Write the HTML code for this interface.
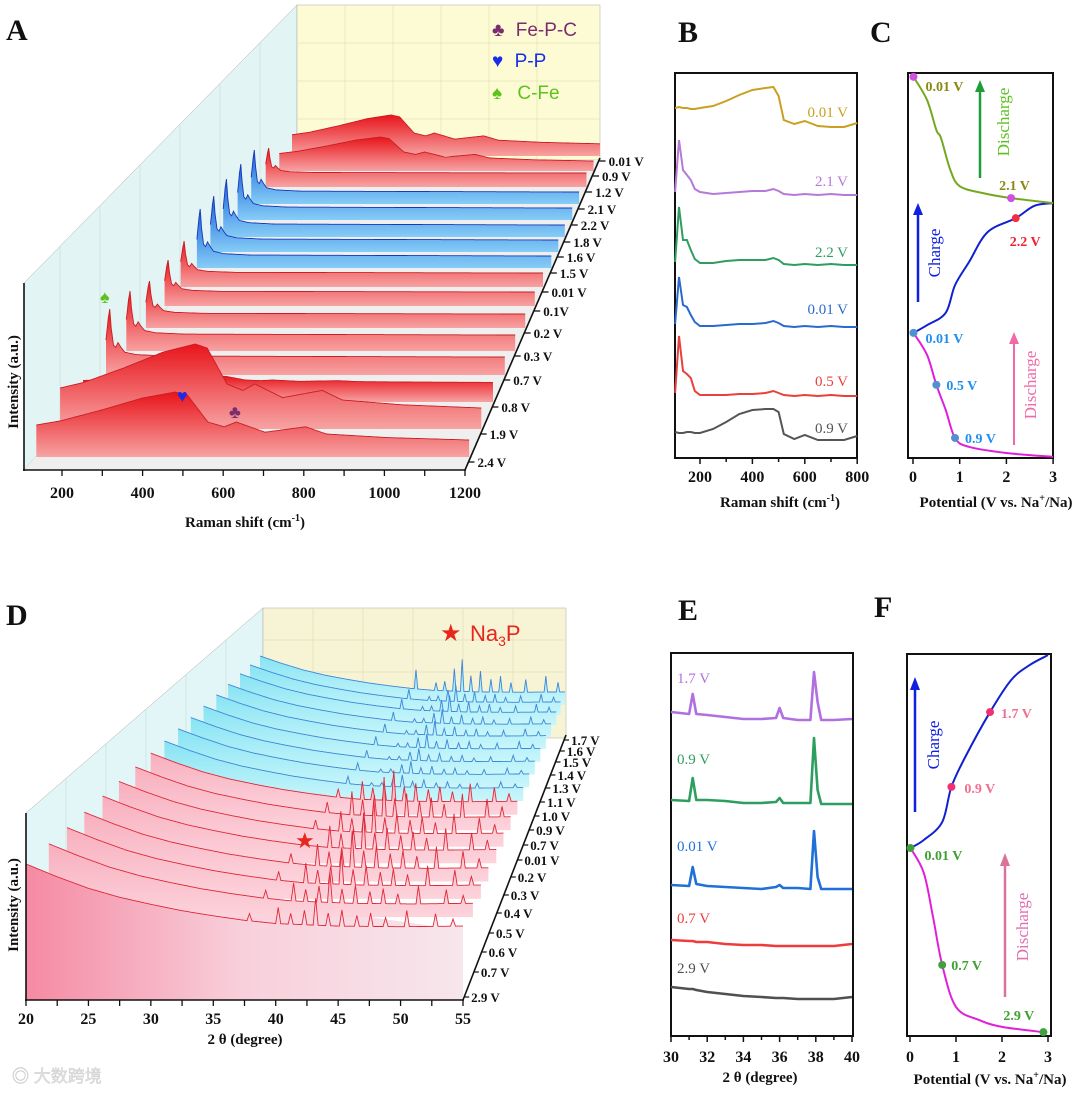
<!DOCTYPE html>
<html><head><meta charset="utf-8">
<style>
html,body{margin:0;padding:0;background:#fff;}
svg{display:block;font-family:"Liberation Serif",serif;}
.tk{font-size:16px;font-weight:bold;fill:#111;}
.dl{font-size:13px;font-weight:bold;fill:#111;}
.tt{font-size:15px;font-weight:bold;fill:#111;}
.let{font-size:30px;font-weight:bold;fill:#111;}
</style></head>
<body>
<svg id="fig" width="1080" height="1093" viewBox="0 0 1080 1093">
<defs>
<linearGradient id="gRed" x1="0" y1="0" x2="0" y2="1"><stop offset="0" stop-color="#e8141a"/><stop offset="1" stop-color="#f7a3a3"/></linearGradient>
<linearGradient id="gBlue" x1="0" y1="0" x2="0" y2="1"><stop offset="0" stop-color="#1560d8"/><stop offset="1" stop-color="#86cdf7"/></linearGradient>
<linearGradient id="gPink" x1="0" y1="0" x2="0" y2="1"><stop offset="0" stop-color="#f8aebd"/><stop offset="1" stop-color="#fcd3dc"/></linearGradient>
<linearGradient id="gCyan" x1="0" y1="0" x2="0" y2="1"><stop offset="0" stop-color="#86e3f3"/><stop offset="1" stop-color="#c9f6fb"/></linearGradient>
<linearGradient id="gFloorD" x1="0" y1="0" x2="1" y2="0"><stop offset="0" stop-color="#f58aa3"/><stop offset="0.5" stop-color="#f8d0dc"/><stop offset="1" stop-color="#f7e6ec"/></linearGradient>
</defs>

<!-- Panel A static -->
<g>
<text class="let" x="6" y="40">A</text>
<polygon points="24,283 297,5 297,160 24,470" fill="#e3f4f4" stroke="#aaa" stroke-width="0.5"/>
<rect x="297" y="5" width="303" height="155" fill="#fdfbd4" stroke="#aaa" stroke-width="0.5"/>
<g stroke="#e5e2b8" stroke-width="0.7">
<line x1="345" y1="5" x2="345" y2="160"/><line x1="393" y1="5" x2="393" y2="160"/><line x1="441" y1="5" x2="441" y2="160"/><line x1="489" y1="5" x2="489" y2="160"/><line x1="537" y1="5" x2="537" y2="160"/>
<line x1="297" y1="43" x2="600" y2="43"/><line x1="297" y1="81" x2="600" y2="81"/><line x1="297" y1="119" x2="600" y2="119"/>
</g>
<g stroke="#c9dede" stroke-width="0.7">
<line x1="60" y1="246" x2="60" y2="430"/><line x1="100" y1="205" x2="100" y2="390"/><line x1="140" y1="164" x2="140" y2="345"/><line x1="180" y1="124" x2="180" y2="300"/><line x1="220" y1="83" x2="220" y2="255"/><line x1="260" y1="43" x2="260" y2="210"/>
</g>
<polygon points="24,470 465,470 600,160 297,160" fill="#efefef"/>
</g>
<g id="gA"></g>
<g>
<line x1="24" y1="283" x2="24" y2="471" stroke="#111" stroke-width="1.6"/>
<line x1="23" y1="470" x2="466" y2="470" stroke="#111" stroke-width="1.6"/>
<line x1="465" y1="470" x2="600" y2="158" stroke="#111" stroke-width="1.6"/>
<text class="tt" transform="translate(18,382) rotate(-90)" text-anchor="middle">Intensity (a.u.)</text>
<text class="tt" x="245" y="527" text-anchor="middle">Raman shift (cm<tspan dy="-6" font-size="10">-1</tspan><tspan dy="6">)</tspan></text>
</g>
<g id="gAx"></g>
<g font-family="Liberation Sans, DejaVu Sans, sans-serif" font-size="19">
<text x="492" y="36" fill="#7b2d6e">♣ <tspan dx="6">Fe-P-C</tspan></text>
<text x="492" y="67" fill="#1a2ce8">♥ <tspan dx="6">P-P</tspan></text>
<text x="492" y="99" fill="#5ec21e">♠ <tspan dx="10">C-Fe</tspan></text>
<text x="100" y="303" fill="#5ec21e" font-size="18">♠</text>
<text x="177" y="402" fill="#1a2ce8" font-size="18">♥</text>
<text x="229" y="418" fill="#7b2d6e" font-size="18">♣</text>
</g>

<!-- Panel B -->
<g>
<text class="let" x="678" y="42">B</text>
<rect x="675" y="73" width="182" height="385" fill="none" stroke="#111" stroke-width="2"/>
<text class="tt" x="780" y="507" text-anchor="middle">Raman shift (cm<tspan dy="-6" font-size="10">-1</tspan><tspan dy="6">)</tspan></text>
</g>
<g id="gB"></g>

<!-- Panel C -->
<g>
<text class="let" x="870" y="42">C</text>
<rect x="908" y="73" width="145" height="385" fill="none" stroke="#111" stroke-width="2"/>
<text class="tt" x="996" y="507" text-anchor="middle">Potential (V vs. Na<tspan dy="-6" font-size="10">+</tspan><tspan dy="6">/Na)</tspan></text>
<line x1="980" y1="178" x2="980" y2="90" stroke="#1e9e3a" stroke-width="2.5"/>
<polygon points="980,80 975,92 985,92" fill="#1e9e3a"/>
<text transform="translate(1009,122) rotate(-90)" text-anchor="middle" font-size="17" fill="#5ec21e">Discharge</text>
<line x1="918" y1="302" x2="918" y2="213" stroke="#1020e0" stroke-width="2.5"/>
<polygon points="918,203 913,215 923,215" fill="#1020e0"/>
<text transform="translate(940,253) rotate(-90)" text-anchor="middle" font-size="17" fill="#1020e0">Charge</text>
<line x1="1014" y1="445" x2="1014" y2="342" stroke="#f06aa8" stroke-width="2"/>
<polygon points="1014,332 1009,344 1019,344" fill="#f06aa8"/>
<text transform="translate(1036,385) rotate(-90)" text-anchor="middle" font-size="17" fill="#f06aa8">Discharge</text>
</g>
<g id="gC"></g>

<!-- Panel D -->
<g>
<text class="let" x="6" y="625">D</text>
<polygon points="26,813 263,608 263,760 26,1000" fill="#e3f6f7" stroke="#aaa" stroke-width="0.5"/>
<g stroke="#c9dede" stroke-width="0.7">
<line x1="66" y1="778" x2="66" y2="960"/><line x1="106" y1="744" x2="106" y2="920"/><line x1="146" y1="709" x2="146" y2="880"/><line x1="186" y1="675" x2="186" y2="840"/><line x1="226" y1="640" x2="226" y2="800"/>
</g>
<rect x="263" y="608" width="303" height="130" fill="#f7f4d6" stroke="#aaa" stroke-width="0.5"/>
<g stroke="#e2dfb6" stroke-width="0.7">
<line x1="313" y1="608" x2="313" y2="738"/><line x1="363" y1="608" x2="363" y2="738"/><line x1="413" y1="608" x2="413" y2="738"/><line x1="463" y1="608" x2="463" y2="738"/><line x1="513" y1="608" x2="513" y2="738"/>
<line x1="263" y1="640" x2="566" y2="640"/><line x1="263" y1="672" x2="566" y2="672"/>
</g>
<text x="440" y="641" font-size="24" fill="#e8261c">★</text>
<text x="470" y="641" font-size="22" fill="#e8261c" font-family="Liberation Sans, sans-serif">Na<tspan dy="5" font-size="14">3</tspan><tspan dy="-5">P</tspan></text>
</g>
<g id="gD"></g>
<g>
<text x="295" y="848" font-size="22" fill="#e8261c">★</text>
<line x1="26" y1="813" x2="26" y2="1001" stroke="#111" stroke-width="1.6"/>
<line x1="25" y1="1000" x2="464" y2="1000" stroke="#111" stroke-width="1.6"/>
<line x1="463" y1="1000" x2="566" y2="735" stroke="#111" stroke-width="1.6"/>
<text class="tt" transform="translate(18,905) rotate(-90)" text-anchor="middle">Intensity (a.u.)</text>
<text class="tt" x="245" y="1044" text-anchor="middle">2 θ (degree)</text>
</g>
<g id="gDx"></g>

<!-- Panel E -->
<g>
<text class="let" x="678" y="620">E</text>
<rect x="671" y="653" width="182" height="383" fill="none" stroke="#111" stroke-width="2"/>
<text class="tt" x="760" y="1082" text-anchor="middle">2 θ (degree)</text>
</g>
<g id="gE"></g>

<!-- Panel F -->
<g>
<text class="let" x="874" y="617">F</text>
<rect x="907" y="654" width="144" height="382" fill="none" stroke="#111" stroke-width="2"/>
<text class="tt" x="990" y="1084" text-anchor="middle">Potential (V vs. Na<tspan dy="-6" font-size="10">+</tspan><tspan dy="6">/Na)</tspan></text>
<line x1="915" y1="812" x2="915" y2="688" stroke="#1020e0" stroke-width="2.5"/>
<polygon points="915,677 910,690 920,690" fill="#1020e0"/>
<text transform="translate(939,745) rotate(-90)" text-anchor="middle" font-size="17" fill="#1020e0">Charge</text>
<line x1="1005" y1="997" x2="1005" y2="864" stroke="#d9739a" stroke-width="2.5"/>
<polygon points="1005,853 1000,866 1010,866" fill="#d9739a"/>
<text transform="translate(1028,927) rotate(-90)" text-anchor="middle" font-size="17" fill="#e070b0">Discharge</text>
</g>
<g id="gF"></g>

<text x="12" y="1082" font-size="17" fill="#e4e4e4" stroke="#c8c8c8" stroke-width="0.4" font-family="Liberation Sans, Noto Sans CJK SC, sans-serif">◎ 大数跨境</text>
</svg>

<script>
// ---------- Panel A data ----------
const labelsA = ['2.4 V','1.9 V','0.8 V','0.7 V','0.3 V','0.2 V','0.1V','0.01 V','1.5 V','1.6 V','1.8 V','2.2 V','2.1 V','1.2 V','0.9 V','0.01 V'];
const colorGroupA = ['r','r','r','r','r','r','r','r','b','b','b','b','b','r','r','r'];
const levelA = [5,5,18,18,16,14,14,14,12,12,12,12,12,14,4,5];
const humpA  = [60,80,8,0,0,0,0,0,0,0,0,0,0,0,30,36];
const peakA  = [0,0,0,48,44,33,32,32,47,44,46,44,42,25,0,0];
const humpShift = [140,200,300,400,480,510,560,600,630,700,800,850,1000,1200];
const humpProf  = [0.45,0.52,0.7,0.9,1.0,0.95,0.5,0.42,0.5,0.33,0.42,0.3,0.24,0.2];
const peakShift = [140,146,150,154,160,166,172,180,190,220,300,1200];
const peakProf  = [0.35,0.8,1,0.6,0.25,0.2,0.3,0.2,0.1,0.05,0.02,0];
const ticksA = [200,400,600,800,1000,1200];
// ---------- Panel B data ----------
const shiftB = [105,120,135,150,165,180,200,250,300,350,400,450,480,500,520,560,600,650,700,750,800];
const labelsB = ['0.01 V','2.1 V','2.2 V','0.01 V','0.5 V','0.9 V'];
const seriesB0 = [20,21,20,20,19,19,20,22,27,33,38,40,41,32,8,4,7,2,1,1,5];
const seriesB1 = [3,55,25,20,15,6,3,1,2,3,4,4,6,4,1,0,1,0,1,0,0];
const seriesB2 = [3,58,25,25,15,6,2,2,4,5,5,5,7,5,1,0,1,0,1,0,0];
const seriesB3 = [3,50,22,20,12,5,1,1,2,3,3,4,6,4,1,0,1,0,1,0,0];
const seriesB4 = [3,60,25,22,18,5,1,1,1,2,2,3,5,3,1,0,1,0,1,0,0];
const seriesB5 = [10,9,9,10,10,9,9,13,20,28,32,33,33,30,8,3,7,2,2,2,6];
const ticksB = [200,400,600,800];
// ---------- Panel C data (potential V, state-of-progress %) ----------
const cPinkV = [0.01,0.3,0.5,0.7,0.9,1.2,2.0,3.0];
const cPinkP = [32.5,26.8,19,12.5,5.2,2.9,1.3,0.3];
const cBlueV = [0.01,0.3,0.7,0.9,1.2,1.6,2.2,2.6,3.0];
const cBlueP = [32.5,34.5,37.7,44.9,50.9,58.7,62.3,65.5,66.2];
const cGreenV = [3.0,2.1,1.5,1.0,0.8,0.6,0.5,0.3,0.01];
const cGreenP = [66.2,67.5,68.8,70.6,74.8,83.1,85.2,93,99];
const ticksC = [0,1,2,3];
// ---------- Panel D data ----------
const labelsD = ['2.9 V','0.7 V','0.6 V','0.5 V','0.4 V','0.3 V','0.2 V','0.01 V','0.7 V','0.9 V','1.0 V','1.1 V','1.3 V','1.4 V','1.5 V','1.6 V','1.7 V'];
const colorGroupD = ['r','r','r','r','r','r','r','r','b','b','b','b','b','b','b','b','b'];
const bgThetaD = [20,22.5,25,27.5,30,32.5,35,37.5,40,45,50,55];
const bgProfD  = [1,0.8,0.62,0.48,0.37,0.27,0.19,0.12,0.07,0.03,0.02,0.03];
const peakPosD = [37.9,40.2,41.2,42.3,43.2,44.2,45.3,46.5,47.6,48.8,50.5,52.8,54.2];
const peakHRed = [8,18,12,16,30,14,18,12,15,10,18,14,8];
const peakHBlue= [12,5,6,14,20,10,13,8,10,6,8,10,6];
const peakScaleD = [0.9,1.0,1.1,1.2,1.2,1.1,1.3,1.0,0.6,0.6,0.6,0.7,0.7,0.7,0.8,0.8,1.6];
const ticksD = [20,25,30,35,40,45,50,55];
// ---------- Panel E data ----------
const thetaE = [30,31,31.2,31.4,32,33,34,35,35.8,36,36.2,37,37.7,37.9,38.1,38.3,39,40];
const labelsE = ['1.7 V','0.9 V','0.01 V','0.7 V','2.9 V'];
const seriesE0 = [12,10,30,10,9,7,5,5,6,16,6,4,4,52,22,4,4,5];
const seriesE1 = [8,7,30,8,8,7,5,5,6,10,5,5,5,70,18,4,4,4];
const seriesE2 = [8,7,26,9,7,6,5,4,6,8,5,5,4,62,16,4,4,4];
const seriesE3 = [10,9,9,8,8,6,5,5,4,4,4,4,4,4,4,4,4,6];
const seriesE4 = [17,15,15,14,12,10,8,7,6,6,6,5,5,5,5,5,5,7];
const ticksE = [30,32,34,36,38,40];
// ---------- Panel F data ----------
const fPinkV = [0.01,0.3,0.5,0.7,1.0,1.5,2.0,2.9];
const fPinkP = [49.2,42.7,31.2,18.6,7.6,4.2,2.4,1.0];
const fBlueV = [0.01,0.3,0.7,0.9,1.2,1.74,2.2,2.6,3.0];
const fBlueP = [49.2,51.3,56,65.2,73,84.8,93.2,97.1,99.7];
const ticksF = [0,1,2,3];

const NS='http://www.w3.org/2000/svg';
function mk(tag,parent){const e=document.createElementNS(NS,tag);parent.appendChild(e);return e;}
function interp(xs,ys,x){if(x<=xs[0])return ys[0];for(let k=1;k<xs.length;k++){if(x<=xs[k]){const f=(x-xs[k-1])/(xs[k]-xs[k-1]);return ys[k-1]+f*(ys[k]-ys[k-1]);}}return ys[ys.length-1];}
function pathOf(pts){return pts.map((p,k)=>(k?'L':'M')+p[0].toFixed(1)+','+p[1].toFixed(1)).join('');}
function smooth(pts){let d='M'+pts[0][0]+','+pts[0][1];for(let i=0;i<pts.length-1;i++){const p0=pts[Math.max(0,i-1)],p1=pts[i],p2=pts[i+1],p3=pts[Math.min(pts.length-1,i+2)];d+=' C'+(p1[0]+(p2[0]-p0[0])/6)+','+(p1[1]+(p2[1]-p0[1])/6)+' '+(p2[0]-(p3[0]-p1[0])/6)+','+(p2[1]-(p3[1]-p1[1])/6)+' '+p2[0]+','+p2[1];}return d;}

// ===== Panel A =====
const gA=document.getElementById('gA'), gAx=document.getElementById('gAx');
const posA=[462,434,407,380,356,333,311,292,273,257,242,225,209,192,176,161];
for(let i=labelsA.length-1;i>=0;i--){
  const b=posA[i]-5, f=(455-b)/299;
  const x0=38+f*254, x1=470+f*130;
  const X=s=>x0+(s-140)/1060*(x1-x0);
  const pts=[];
  for(let s=140;s<=1200;s+=2){
    const v=levelA[i]+humpA[i]*interp(humpShift,humpProf,s)+peakA[i]*interp(peakShift,peakProf,s);
    pts.push([X(s),b-v]);
  }
  const blue=colorGroupA[i]==='b';
  const fill=mk('path',gA);
  
  
  fill.setAttribute('d',pathOf([[x0,b]].concat(pts,[[x1,b]]))+'Z');
  fill.setAttribute('fill',blue?'url(#gBlue)':'url(#gRed)');
  const ln=mk('path',gA);
  
  
  ln.setAttribute('d',pathOf(pts));
  ln.setAttribute('fill','none');
  ln.setAttribute('stroke',blue?'#1838b8':'#c81e24');
  ln.setAttribute('stroke-width','0.9');
  const ax=465+(470-posA[i])/310*135;
  const tk=mk('line',gAx);
  
  
  tk.setAttribute('x1',ax);tk.setAttribute('x2',ax+6);tk.setAttribute('y1',posA[i]);tk.setAttribute('y2',posA[i]);tk.setAttribute('stroke','#111');tk.setAttribute('stroke-width','1.3');
  const tx=mk('text',gAx);
  
  
  tx.setAttribute('class','dl');
  tx.setAttribute('x',ax+9);tx.setAttribute('y',posA[i]+5);
  tx.textContent=labelsA[i];
}
const XA=s=>62+(s-200)*0.403;
for(let s=200;s<=1200;s+=100){
  const tk=mk('line',gAx);
  
  
  tk.setAttribute('x1',XA(s));tk.setAttribute('x2',XA(s));tk.setAttribute('y1',470);tk.setAttribute('y2',476);tk.setAttribute('stroke','#111');tk.setAttribute('stroke-width','1.3');
}
ticksA.forEach(s=>{
  const t=mk('text',gAx);
  
  
  t.setAttribute('class','tk');t.setAttribute('x',XA(s));t.setAttribute('y',498);t.setAttribute('text-anchor','middle');
  t.textContent=s;
});

// ===== Panel B =====
const gB=document.getElementById('gB');
const XB=s=>700+(s-200)*0.262;
const seriesB=[seriesB0,seriesB1,seriesB2,seriesB3,seriesB4,seriesB5];
const baseB=[128,195,265,327,396,442];
const colB=['#c9a020','#b57ad8','#2e9e60','#2a6ad0','#e8403a','#555555'];
const labYB=[117,186,257,314,386,433];
seriesB.forEach((ser,i)=>{
  const p=mk('path',gB);
  
  
  p.setAttribute('d',pathOf(shiftB.map((s,k)=>[XB(s),baseB[i]-ser[k]])));
  p.setAttribute('fill','none');p.setAttribute('stroke',colB[i]);p.setAttribute('stroke-width','2');
  const t=mk('text',gB);
  
  
  t.setAttribute('x',848);t.setAttribute('y',labYB[i]);t.setAttribute('text-anchor','end');t.setAttribute('font-size','15');t.setAttribute('fill',colB[i]);
  t.textContent=labelsB[i];
});
for(let s=200;s<=800;s+=100){
  const tk=mk('line',gB);
  
  
  tk.setAttribute('x1',XB(s));tk.setAttribute('x2',XB(s));tk.setAttribute('y1',458);tk.setAttribute('y2',s%200?462:464);tk.setAttribute('stroke','#111');tk.setAttribute('stroke-width','1.5');
}
ticksB.forEach(s=>{
  const t=mk('text',gB);
  
  
  t.setAttribute('class','tk');t.setAttribute('x',XB(s));t.setAttribute('y',482);t.setAttribute('text-anchor','middle');
  t.textContent=s;
});

// ===== Panel C =====
const gC=document.getElementById('gC');
const XC=v=>913+v*46.7, YC=p=>458-p*3.85;
[[cPinkV,cPinkP,'#e020d8'],[cBlueV,cBlueP,'#1020d0'],[cGreenV,cGreenP,'#74a820']].forEach((c,i)=>{
  const p=mk('path',gC);
  
  
  p.setAttribute('d',smooth(c[0].map((v,k)=>[XC(v),YC(c[1][k])])));
  p.setAttribute('fill','none');p.setAttribute('stroke',c[2]);p.setAttribute('stroke-width','2');
});
const cMarkV=[0.01,2.1,2.2,0.01,0.5,0.9];
const cMarkP=[99,67.5,62.3,32.5,19,5.2];
const cMarkCol=['#d050e0','#d050e0','#f03040','#5090d0','#5090d0','#5090d0'];
const cLab=['0.01 V','2.1 V','2.2 V','0.01 V','0.5 V','0.9 V'];
const cLabCol=['#8a8a10','#8a8a10','#f02030','#2090f0','#2090f0','#2090f0'];
const cLabDx=[12,-12,-6,12,10,10], cLabDy=[14,-8,28,10,5,5];
cMarkV.forEach((v,i)=>{
  const m=mk('circle',gC);
  
  
  m.setAttribute('cx',XC(v));m.setAttribute('cy',YC(cMarkP[i]));m.setAttribute('r',4);m.setAttribute('fill',cMarkCol[i]);
  const t=mk('text',gC);
  
  
  t.setAttribute('x',XC(v)+cLabDx[i]);t.setAttribute('y',YC(cMarkP[i])+cLabDy[i]);t.setAttribute('font-size','14');t.setAttribute('font-weight','bold');t.setAttribute('fill',cLabCol[i]);
  t.textContent=cLab[i];
});
ticksC.forEach(v=>{
  const tk=mk('line',gC);
  
  
  tk.setAttribute('x1',XC(v));tk.setAttribute('x2',XC(v));tk.setAttribute('y1',458);tk.setAttribute('y2',464);tk.setAttribute('stroke','#111');tk.setAttribute('stroke-width','1.5');
  const t=mk('text',gC);
  
  
  t.setAttribute('class','tk');t.setAttribute('x',XC(v));t.setAttribute('y',482);t.setAttribute('text-anchor','middle');
  t.textContent=v;
});

// ===== Panel D =====
const gD=document.getElementById('gD'), gDx=document.getElementById('gDx');
const posD=[997,972,952,933,913,895,877,860,845,830,816,802,788,775,762,751,740];
// floor
const fl=mk('polygon',gD);


fl.setAttribute('points','26,870 463,930 463,1000 26,1000');fl.setAttribute('fill','url(#gFloorD)');
for(let i=labelsD.length-1;i>=0;i--){
  const b=932-(997-posD[i])*235/257, f=(932-b)/235;
  const x0=26+f*234, x1=463+f*102, amp=64-f*27;
  const X=t=>x0+(t-20)/35*(x1-x0);
  const red=colorGroupD[i]==='r';
  const hs=red?peakHRed:peakHBlue;
  const pts=[];
  for(let t=20;t<=55.001;t+=0.05){
    let v=amp*interp(bgThetaD,bgProfD,t)+4;
    peakPosD.forEach((p,k)=>{v+=peakScaleD[i]*hs[k]*Math.max(0,1-Math.abs(t-p)/0.2);});
    pts.push([X(t),b-v]);
  }
  const bottom=i===0?1000:b+8;
  const fp=mk('path',gD);
  
  
  fp.setAttribute('d',pathOf([[x0,bottom]].concat(pts,[[x1,bottom]]))+'Z');
  fp.setAttribute('fill',i===0?'url(#gFloorD)':(red?'url(#gPink)':'url(#gCyan)'));
  const ln=mk('path',gD);
  
  
  ln.setAttribute('d',pathOf(pts));ln.setAttribute('fill','none');
  ln.setAttribute('stroke',red?'#e02838':'#3f86d8');ln.setAttribute('stroke-width','0.9');
  const ax=463+(1000-posD[i])/265*103;
  const tk=mk('line',gDx);
  
  
  tk.setAttribute('x1',ax);tk.setAttribute('x2',ax+5);tk.setAttribute('y1',posD[i]);tk.setAttribute('y2',posD[i]);tk.setAttribute('stroke','#111');tk.setAttribute('stroke-width','1.2');
  const tx=mk('text',gDx);
  
  
  tx.setAttribute('class','dl');tx.setAttribute('font-size',i>8?'11':'13');
  tx.setAttribute('x',ax+7);tx.setAttribute('y',posD[i]+5);
  tx.textContent=labelsD[i];
}
const XD=t=>26+(t-20)/35*437;
for(let t=20;t<=55;t+=2.5){
  const tk=mk('line',gDx);
  
  
  tk.setAttribute('x1',XD(t));tk.setAttribute('x2',XD(t));tk.setAttribute('y1',1000);tk.setAttribute('y2',1006);tk.setAttribute('stroke','#111');tk.setAttribute('stroke-width','1.3');
}
ticksD.forEach(t=>{
  const tx=mk('text',gDx);
  
  
  tx.setAttribute('class','tk');tx.setAttribute('x',XD(t));tx.setAttribute('y',1024);tx.setAttribute('text-anchor','middle');
  tx.textContent=t;
});

// ===== Panel E =====
const gE=document.getElementById('gE');
const XE=t=>671+(t-30)*18.1;
const seriesE=[seriesE0,seriesE1,seriesE2,seriesE3,seriesE4];
const baseE=[724,808,893,950,1004];
const colE=['#b070e0','#2e9e60','#2070d8','#ee3c3c','#505050'];
const labYE=[683,764,851,923,973];
seriesE.forEach((ser,i)=>{
  const p=mk('path',gE);
  
  
  p.setAttribute('d',pathOf(thetaE.map((t,k)=>[XE(t),baseE[i]-ser[k]])));
  p.setAttribute('fill','none');p.setAttribute('stroke',colE[i]);p.setAttribute('stroke-width','2.6');p.setAttribute('stroke-linejoin','round');
  const t=mk('text',gE);
  
  
  t.setAttribute('x',677);t.setAttribute('y',labYE[i]);t.setAttribute('font-size','15');t.setAttribute('fill',colE[i]);
  t.textContent=labelsE[i];
});
for(let t=30;t<=40;t+=1){
  const tk=mk('line',gE);
  
  
  tk.setAttribute('x1',XE(t));tk.setAttribute('x2',XE(t));tk.setAttribute('y1',1036);tk.setAttribute('y2',t%2?1040:1042);tk.setAttribute('stroke','#111');tk.setAttribute('stroke-width','1.5');
}
ticksE.forEach(t=>{
  const tx=mk('text',gE);
  
  
  tx.setAttribute('class','tk');tx.setAttribute('x',XE(t));tx.setAttribute('y',1062);tx.setAttribute('text-anchor','middle');
  tx.textContent=t;
});

// ===== Panel F =====
const gF=document.getElementById('gF');
const XF=v=>910+v*46, YF=p=>1036-p*3.82;
[[fPinkV,fPinkP,'#e020d8'],[fBlueV,fBlueP,'#1020d0']].forEach((c,i)=>{
  const p=mk('path',gF);
  
  
  p.setAttribute('d',smooth(c[0].map((v,k)=>[XF(v),YF(c[1][k])])));
  p.setAttribute('fill','none');p.setAttribute('stroke',c[2]);p.setAttribute('stroke-width','2');
});
const fMarkV=[1.74,0.9,0.01,0.7,2.9];
const fMarkP=[84.8,65.2,49.2,18.6,1.0];
const fMarkCol=['#f03070','#f03070','#40a040','#40a040','#40a040'];
const fLab=['1.7 V','0.9 V','0.01 V','0.7 V','2.9 V'];
const fLabCol=['#f07090','#f07090','#40a030','#40a030','#40a030'];
const fLabDx=[11,13,14,9,-40], fLabDy=[6,6,12,5,-12];
fMarkV.forEach((v,i)=>{
  const m=mk('circle',gF);
  
  
  m.setAttribute('cx',XF(v));m.setAttribute('cy',YF(fMarkP[i]));m.setAttribute('r',4);m.setAttribute('fill',fMarkCol[i]);
  const t=mk('text',gF);
  
  
  t.setAttribute('x',XF(v)+fLabDx[i]);t.setAttribute('y',YF(fMarkP[i])+fLabDy[i]);t.setAttribute('font-size','14');t.setAttribute('font-weight','bold');t.setAttribute('fill',fLabCol[i]);
  t.textContent=fLab[i];
});
ticksF.forEach(v=>{
  const tk=mk('line',gF);
  
  
  tk.setAttribute('x1',XF(v));tk.setAttribute('x2',XF(v));tk.setAttribute('y1',1036);tk.setAttribute('y2',1042);tk.setAttribute('stroke','#111');tk.setAttribute('stroke-width','1.5');
  const t=mk('text',gF);
  
  
  t.setAttribute('class','tk');t.setAttribute('x',XF(v));t.setAttribute('y',1062);t.setAttribute('text-anchor','middle');
  t.textContent=v;
});
</script>
</body></html>
